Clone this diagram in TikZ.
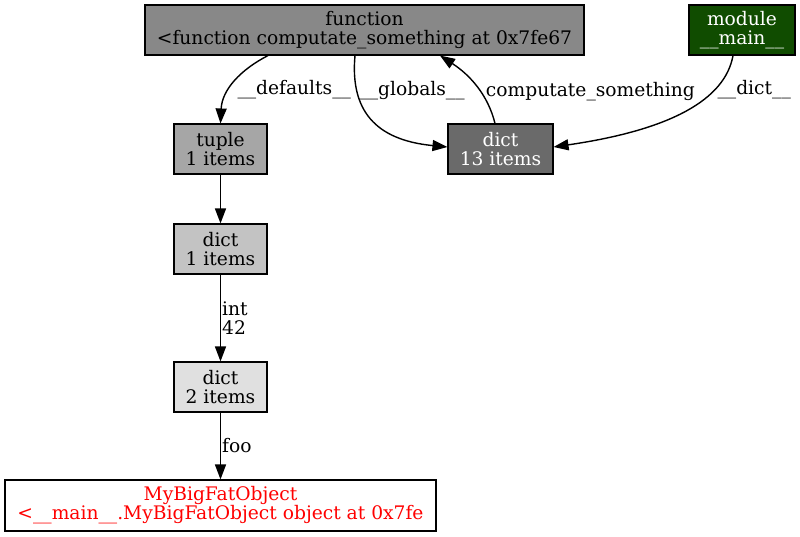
\documentclass[tikz,border=0pt]{standalone}
\usepackage{fontspec}
\setmainfont{DejaVu Serif}
\usetikzlibrary{arrows.meta}
\definecolor{fngray}{HTML}{888888}
\definecolor{tupgray}{HTML}{A6A6A6}
\definecolor{bigdict}{HTML}{6A6A6A}
\definecolor{smalldict}{HTML}{C3C3C3}
\definecolor{tinydict}{HTML}{E0E0E0}
\definecolor{modgreen}{HTML}{104C00}
\newcommand{\gvfont}{\fontsize{18.67pt}{19pt}\selectfont}
\tikzset{
  obj/.style={draw=black,line width=1.1pt,fill=#1,minimum height=50pt,
    inner sep=0pt,align=center,font=\gvfont},
  obj/.default=white,
  link/.style={-{Triangle[length=15pt,width=11pt]},line width=1.4pt},
  lbl/.style={font=\gvfont,inner sep=2pt,align=left},
}
\begin{document}
\begin{tikzpicture}[x=1pt,y=-1pt]
  \useasboundingbox[fill=white] (0,0) rectangle (800,537);
  % nodes
  \node[obj=fngray,minimum width=439pt] (fn) at (364.5,30)
    {function\\<function computate\_something at 0x7fe67};
  \node[obj=modgreen,minimum width=106pt,text=white] (mod) at (742,30)
    {module\\\_\_main\_\_};
  \node[obj=tupgray,minimum width=93pt] (tup) at (220.5,149) {tuple\\1 items};
  \node[obj=bigdict,minimum width=105pt,text=white] (glob) at (500.5,149) {dict\\13 items};
  \node[obj=smalldict,minimum width=93pt] (dflt) at (220.5,249) {dict\\1 items};
  \node[obj=tinydict,minimum width=93pt] (inner) at (220.5,387) {dict\\2 items};
  \node[obj,minimum width=431pt,minimum height=51pt,text=red] (big) at (220.5,505.5)
    {MyBigFatObject\\<\_\_main\_\_.MyBigFatObject object at 0x7fe};
  % edges
  \draw[link] ([xshift=-96.5pt]fn.south) .. controls (240,70) and (222,90) ..
    node[lbl,right,pos=0.6,xshift=5pt] {\_\_defaults\_\_} (tup.north);
  \draw[link] ([xshift=-9.5pt]fn.south) .. controls (350,110) and (375,140) ..
    node[lbl,right,pos=0.24] {\_\_globals\_\_} ([yshift=2pt]glob.west);
  \draw[link] ([xshift=-5.5pt]glob.north) .. controls (488,95) and (470,75) ..
    node[lbl,right,pos=0.42,xshift=3pt] {computate\_something} ([xshift=75.5pt]fn.south);
  \draw[link] ([xshift=-9pt]mod.south) .. controls (725,100) and (670,130) ..
    node[lbl,right,pos=0.28] {\_\_dict\_\_} ([yshift=2pt]glob.east);
  \draw[link] (tup) -- (dflt);
  \draw[link] (dflt) -- node[lbl,right,inner sep=1pt] {int\\42} (inner);
  \draw[link] (inner) -- node[lbl,right,inner sep=1pt] {foo} (big);
\end{tikzpicture}
\end{document}
